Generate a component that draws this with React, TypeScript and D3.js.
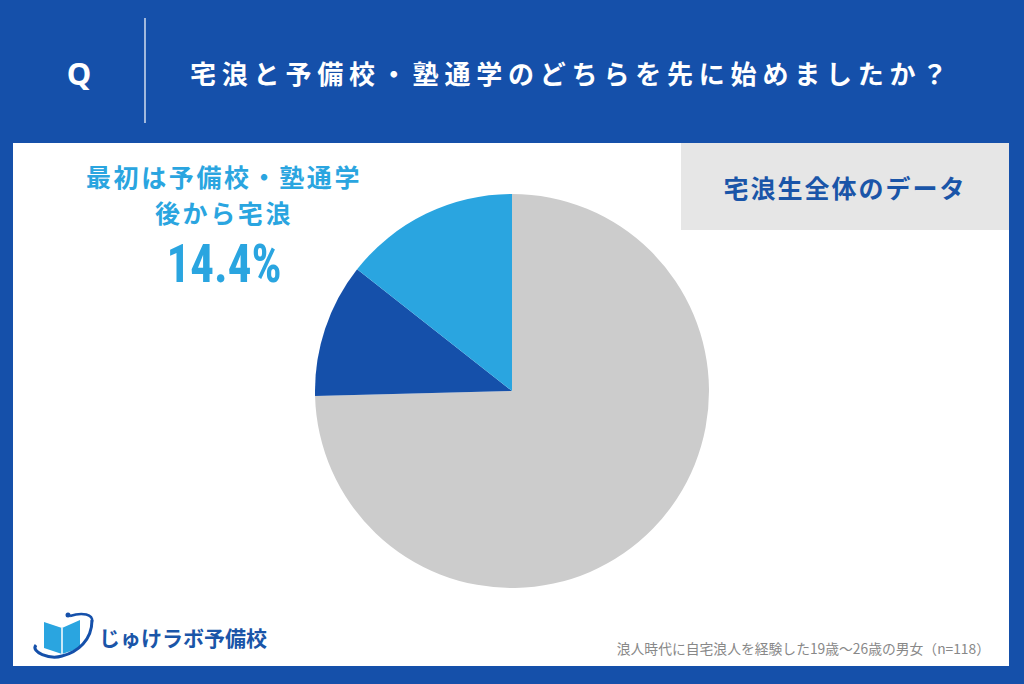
import React from "react";
import * as d3 from "d3";

const categories = ["最初は宅浪、後から予備校・塾通学", "その他", "最初は予備校・塾通学 後から宅浪"];
const values = [74.6, 11.0, 14.4];
const colors = ["#cccccc", "#1550aa", "#2aa5e0"];

const title = "宅浪と予備校・塾通学のどちらを先に始めましたか？";
const labelLines = ["最初は予備校・塾通学", "後から宅浪"];
const labelValue = "14.4%";
const panelTitle = "宅浪生全体のデータ";
const footnote = "浪人時代に自宅浪人を経験した19歳～26歳の男女（n=118）";
const brand = "じゅけラボ予備校";

export default function App() {
  const W = 1024, H = 684;
  const cx = 512, cy = 391, r = 197;
  const pie = d3.pie<number>().sort(null).value((d) => d);
  const arcs = pie(values);
  const arc = d3.arc<d3.PieArcDatum<number>>().innerRadius(0).outerRadius(r);
  const font = "'Noto Sans CJK JP', 'Noto Sans', sans-serif";
  return (
    <svg width={W} height={H} style={{ position: "absolute", left: 0, top: 0 }} fontFamily={font}>
      <rect x={0} y={0} width={W} height={H} fill="#1550aa" />
      <text x={79} y={73} fill="#fff" fontSize={31} fontWeight={700} textAnchor="middle" dominantBaseline="central" fontFamily="'Noto Sans', sans-serif">Q</text>
      <line x1={145} x2={145} y1={18} y2={123} stroke="#fff" strokeWidth={1.2} />
      <text x={190} y={72} fill="#fff" fontSize={26} fontWeight={700} dominantBaseline="central" letterSpacing={5.8}>{title}</text>
      <rect x={13} y={143} width={996} height={523} fill="#fff" />
      <rect x={681} y={143} width={328} height={87} fill="#e6e6e6" />
      <text x={845} y={187} fill="#1a55a8" fontSize={25} fontWeight={700} textAnchor="middle" dominantBaseline="central" letterSpacing={2}>{panelTitle}</text>
      <g transform={`translate(${cx},${cy})`}>
        {arcs.map((a, i) => (
          <path key={categories[i]} d={arc(a) || ""} fill={colors[i]} />
        ))}
      </g>
      {labelLines.map((t, i) => (
        <text key={t} x={224} y={176 + i * 36} fill="#2aa5e0" fontSize={25} fontWeight={700} textAnchor="middle" dominantBaseline="central" letterSpacing={2.6}>{t}</text>
      ))}
      <text x={224} y={263} fill="#2aa5e0" fontSize={54} fontWeight={700} textAnchor="middle" dominantBaseline="central" fontFamily="'Roboto Condensed', 'DejaVu Sans Condensed', Roboto, sans-serif" textLength={115} lengthAdjust="spacingAndGlyphs">{labelValue}</text>
      <text x={990} y={648} fill="#888" fontSize={13.8} textAnchor="end" dominantBaseline="central">{footnote}</text>
      <g>
        <path d="M44 622 L62 628 L80 620 L80 648 L62 654 L44 648 Z" fill="#2aa5e0" />
        <path d="M62 628 L62 654" stroke="#fff" strokeWidth={1.5} />
        <path d="M36 645 C 30 652, 50 660, 62 656 C 78 652, 92 640, 92 620" fill="none" stroke="#1550aa" strokeWidth={3} />
        <path d="M70 616 C 82 612, 94 614, 92 622" fill="none" stroke="#1550aa" strokeWidth={2.5} />
        <circle cx={68} cy={615} r={2.5} fill="#1550aa" />
        <text x={99} y={637} fill="#1a55a8" fontSize={21} fontWeight={700} dominantBaseline="central">{brand}</text>
      </g>
    </svg>
  );
}
